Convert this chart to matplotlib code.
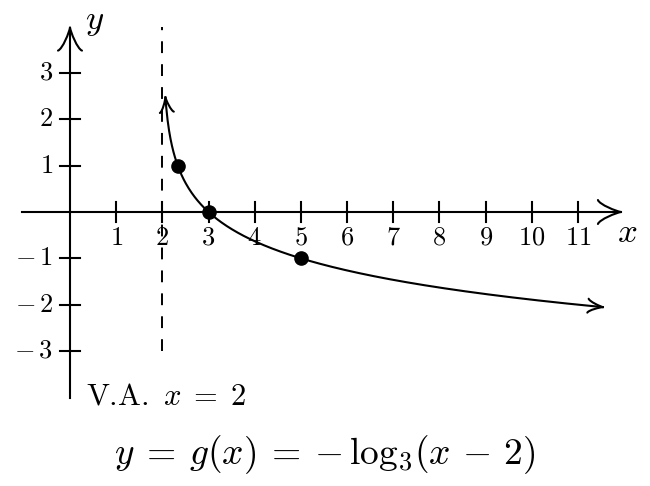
import numpy as np
import matplotlib
matplotlib.use("Agg")
import matplotlib.pyplot as plt
from matplotlib.path import Path
from matplotlib.patches import PathPatch
from matplotlib.transforms import IdentityTransform

plt.rcParams['mathtext.fontset'] = 'cm'
plt.rcParams['font.family'] = 'serif'
plt.rcParams['font.serif'] = ['cmr10', 'DejaVu Serif']
plt.rcParams['axes.unicode_minus'] = False
plt.rcParams['lines.scale_dashes'] = False

# data
x_ticks = [1, 2, 3, 4, 5, 6, 7, 8, 9, 10, 11]
y_ticks = [-3, -2, -1, 1, 2, 3]
pts_x = [7/3, 3, 5]
pts_y = [1, 0, -1]
x_start, x_end = 2.066, 11.54
asymptote_x = 2
title = r'$y\:=\:g(x)\:=\:-\,\log_3\!(x\,-\,2)$'
va_label = r'V.A.$\;\;x\;=\;2$'

fig = plt.figure(figsize=(6.5, 4.86), dpi=100)
ax = fig.add_axes([0, 0, 1, 1])
ax.set_xlim(-70/46.18, (650-70)/46.18)
ax.set_ylim(-(486-212)/46.33, 212/46.33)
ax.axis('off')

lw = 1.5
k = 'black'


def tex_arrow(tip, prev, L, W):
    """Curved LaTeX-style arrowhead at data point tip, pointing away from prev."""
    T = ax.transData
    tp = np.array(T.transform(tip))
    pp = np.array(T.transform(prev))
    d = tp - pp
    d = d / np.hypot(*d)
    n = np.array([-d[1], d[0]])
    for s in (1, -1):
        ctrl = [(-L, s * W), (-0.93 * L, s * 0.62 * W), (-0.2 * L, s * 0.06 * W), (0, 0)]
        verts = [tp + a * d + b * n for a, b in ctrl]
        p = Path(verts, [Path.MOVETO, Path.CURVE4, Path.CURVE4, Path.CURVE4])
        ax.add_patch(PathPatch(p, transform=IdentityTransform(), fill=False,
                               lw=lw, color=k, capstyle='round'))


# axes lines
ax.plot([-1.04, 11.93], [0, 0], color=k, lw=lw)
ax.plot([0, 0], [-4.02, 3.98], color=k, lw=lw)
tex_arrow((11.93, 0), (11.0, 0), 23, 12)
tex_arrow((0, 3.98), (0, 3.0), 23, 12)

tl = 0.22
for t in x_ticks:
    ax.plot([t, t], [-tl, tl], color=k, lw=lw)
    ax.text(t, -0.3, r'$%d$' % t, ha='center', va='top', fontsize=19)
for t in y_ticks:
    ax.plot([-tl, tl], [t, t], color=k, lw=lw)
    lab = r'$-\,%d$' % abs(t) if t < 0 else r'$%d$' % t
    ax.text(-0.37, t, lab, ha='right', va='center', fontsize=19)

ax.text(11.84, -0.45, r'$x$', ha='left', va='center', fontsize=25)
ax.text(0.33, 4.1, r'$y$', ha='left', va='center', fontsize=25)

# asymptote
va, = ax.plot([asymptote_x, asymptote_x], [-3.0, 4.0], color=k, lw=1.4)
va.set_dashes([8.5, 8])

# curve
xs = np.linspace(x_start, x_end, 600)
ys = -np.log(xs - 2) / np.log(3)
ax.plot(xs, ys, color=k, lw=lw)
tex_arrow((xs[0], ys[0]), (xs[3], ys[3]), 15, 7)
tex_arrow((xs[-1], ys[-1]), (xs[-4], ys[-4]), 15, 7)
ax.plot(pts_x, pts_y, 'o', color=k, ms=9.5)

ax.text(0.35, -3.99, va_label, ha='left', va='center', fontsize=22)
fig.text(0.5, 0.064, title, ha='center', va='center', fontsize=27)

fig.savefig('out.png', dpi=100)
